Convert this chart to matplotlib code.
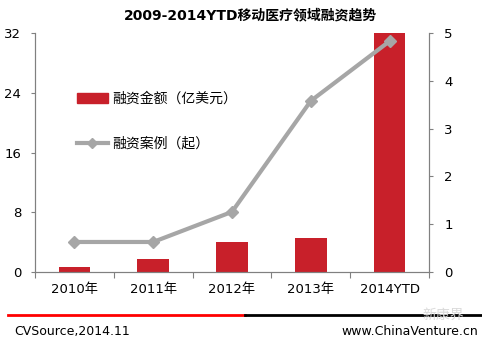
import matplotlib
matplotlib.use("Agg")
import matplotlib.pyplot as plt
from matplotlib.lines import Line2D

plt.rcParams['font.family'] = ['DejaVu Sans', 'Noto Sans CJK SC']

years = ['2010年', '2011年', '2012年', '2013年', '2014YTD']
amount = [0.7, 1.75, 4.0, 4.55, 32]
cases = [0.63, 0.63, 1.26, 3.58, 4.83]
left_ticks = [0, 8, 16, 24, 32]
right_ticks = [0, 1, 2, 3, 4, 5]

red = '#C8202A'
grey = '#A6A6A6'
axis_col = '#808080'

fig = plt.figure(figsize=(4.82, 3.44), dpi=100)
ax = fig.add_axes([0.0726, 0.209, 0.8174, 0.695])
ax2 = ax.twinx()

x = list(range(len(years)))
ax.bar(x, amount, width=0.4, color=red, zorder=2)
ax.set_ylim(0, 32)
ax.set_xlim(-0.5, len(years) - 0.5)
ax.set_yticks(left_ticks)
ax.set_xticks([i - 0.5 for i in range(len(years) + 1)])
ax.set_xticklabels([])
ax.set_xticks(x, minor=True)
ax.set_xticklabels(years, minor=True, family=['DejaVu Sans', 'Noto Sans CJK SC'])
ax.tick_params(axis='x', which='minor', length=0, labelsize=9.5, pad=8)
ax.tick_params(axis='x', which='major', length=4, color=axis_col, direction='out')
ax.tick_params(axis='y', length=3, color=axis_col, labelsize=9.5, pad=7)

ax2.plot(x, cases, color=grey, lw=3, marker='D', ms=6, zorder=3)
ax2.set_ylim(0, 5)
ax2.set_yticks(right_ticks)
ax2.tick_params(axis='y', length=3, color=axis_col, labelsize=9.5, pad=8)

for a in (ax, ax2):
    a.spines['top'].set_visible(False)
    for s in ('left', 'right', 'bottom'):
        a.spines[s].set_color(axis_col)

handles = [plt.Rectangle((0, 0), 1, 1, color=red),
           Line2D([0], [0], color=grey, lw=3, marker='D', ms=5)]
leg = ax.legend(handles, ['融资金额（亿美元）', '融资案例（起）'],
                loc='upper left', bbox_to_anchor=(0.075, 0.805), frameon=False,
                labelspacing=2.2, handlelength=2.2, handletextpad=0.35,
                prop={'family': ['Noto Sans CJK SC'], 'size': 10})

fig.text(0.52, 0.955, '2009-2014YTD移动医疗领域融资趋势', ha='center', va='center',
         fontsize=10, fontweight='bold', family=['DejaVu Sans', 'Noto Sans CJK SC'])

fig.add_artist(Line2D([0.017, 0.508], [0.084, 0.084], color='#FF0000', lw=2))
fig.add_artist(Line2D([0.508, 1.0], [0.084, 0.084], color='black', lw=2))
fig.text(0.03, 0.035, 'CVSource,2014.11', ha='left', va='center', fontsize=9)
fig.text(0.992, 0.035, 'www.ChinaVenture.cn', ha='right', va='center', fontsize=9)
fig.text(0.92, 0.085, '新康界', ha='center', va='center', fontsize=10, color='#DADADA',
         family=['Noto Sans CJK SC'])

fig.savefig('out.png', dpi=100)
